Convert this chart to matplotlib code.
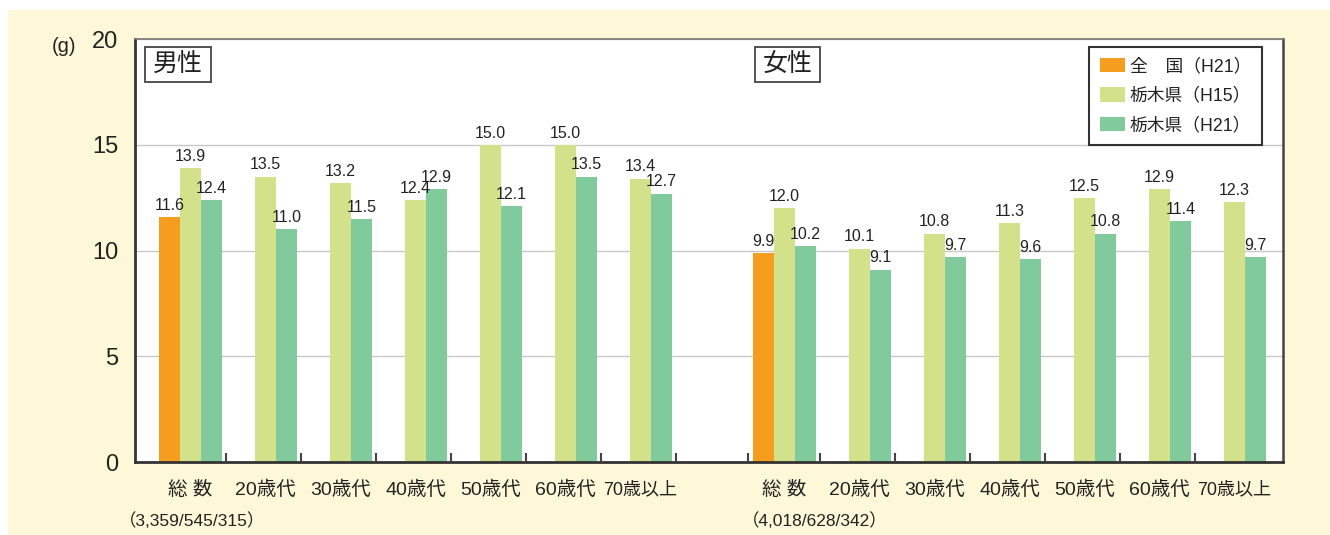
import numpy as np
import matplotlib
matplotlib.use("Agg")
import matplotlib.pyplot as plt
from matplotlib.patches import Rectangle

plt.rcParams['font.family'] = ['Liberation Sans', 'Noto Sans CJK JP', 'DejaVu Sans']

# data
categories = ["総 数", "20歳代", "30歳代", "40歳代", "50歳代", "60歳代", "70歳以上"]
counts = ["（3,359/545/315）", "（4,018/628/342）"]
series = ["全\u3000国（H21）", "栃木県（H15）", "栃木県（H21）"]
colors = ["#F59D1F", "#D3E28A", "#80CA9C"]

male_nat = [11.6]
male_h15 = [13.9, 13.5, 13.2, 12.4, 15.0, 15.0, 13.4]
male_h21 = [12.4, 11.0, 11.5, 12.9, 12.1, 13.5, 12.7]

female_nat = [9.9]
female_h15 = [12.0, 10.1, 10.8, 11.3, 12.5, 12.9, 12.3]
female_h21 = [10.2, 9.1, 9.7, 9.6, 10.8, 11.4, 9.7]

NARROW = ['Liberation Sans Narrow', 'Liberation Sans', 'Noto Sans CJK JP']

fig = plt.figure(figsize=(13.3, 5.35), dpi=100, facecolor="white")
fig.patches.append(Rectangle((8 / 1330, 0), 1, 1 - 10 / 535, transform=fig.transFigure,
                             facecolor="#FEF8D8", edgecolor="none", zorder=-10))
ax = fig.add_axes([0.1013, 0.1359, 0.8631, 0.7912])
ax.set_facecolor("white")

w = 0.28
off = 7.92
gm = np.arange(7, dtype=float)
gf = np.arange(7) + off


def label(x, v):
    ax.text(x, v + 0.2, f"{v:.1f}", ha="center", va="bottom", fontsize=11.5,
            family=NARROW, color="#222")


for g, nat, h15, h21 in [(gm, male_nat, male_h15, male_h21),
                         (gf, female_nat, female_h15, female_h21)]:
    ax.bar(g[:1] - w, nat, w, color=colors[0], label=series[0] if g is gm else None, zorder=2)
    ax.bar(g, h15, w, color=colors[1], label=series[1] if g is gm else None, zorder=2)
    ax.bar(g + w, h21, w, color=colors[2], label=series[2] if g is gm else None, zorder=2)
    for x, v in zip(g[:1] - w, nat):
        label(x, v)
    for x, v in zip(g, h15):
        label(x, v)
    for x, v in zip(g + w, h21):
        label(x, v)
    for x, c in zip(g, categories):
        ax.text(x, -1.31, c, ha="center", va="center", fontsize=14 if len(c) < 5 else 13,
                family=NARROW, color="#222", clip_on=False)

# group separators
seps = list(gm + 0.467) + [gf[0] - 0.483] + list(gf[:6] + 0.47)
ax.vlines(seps, 0, 0.45, color="#444", lw=1.5, zorder=3)

# sub counts
ax.text(-0.95, -2.73, counts[0], ha="left", va="center", fontsize=12.5, color="#222", clip_on=False)
ax.text(7.35, -2.73, counts[1], ha="left", va="center", fontsize=12.5, color="#222", clip_on=False)

# panel labels
for x0, x1, t in [(-0.608, 0.272, "男性"), (7.525, 8.392, "女性")]:
    ax.add_patch(Rectangle((x0, 17.97), x1 - x0, 1.65, facecolor="white",
                           edgecolor="#444", lw=1.3, zorder=4))
    ax.text((x0 + x1) / 2, 18.8, t, ha="center", va="center", fontsize=18,
            color="#222", zorder=5)

ax.set_xlim(-0.745, 14.561)
ax.set_ylim(0, 20)
ax.set_yticks([0, 5, 10, 15, 20])
ax.set_xticks([])
ax.tick_params(axis="y", length=0, pad=12, labelsize=17, labelcolor="#222")
ax.yaxis.grid(True, color="#C8C8C8", lw=1)
ax.set_axisbelow(True)
ax.spines["left"].set_color("#333")
ax.spines["left"].set_linewidth(2)
ax.spines["bottom"].set_color("#333")
ax.spines["bottom"].set_linewidth(2)
ax.spines["top"].set_color("#777")
ax.spines["top"].set_linewidth(1.2)
ax.spines["right"].set_color("#444")
ax.spines["right"].set_linewidth(1.8)

fig.text(52 / 1330, 1 - 46 / 535, "(g)", ha="left", va="center", fontsize=14.5, color="#222")

leg = ax.legend(loc="upper right", bbox_to_anchor=(0.982, 0.981), borderaxespad=0,
                fontsize=12.8, frameon=True, fancybox=False, framealpha=1,
                edgecolor="#333", handlelength=1.4, handleheight=0.85,
                handletextpad=0.3, labelspacing=0.7, borderpad=0.6)
leg.get_frame().set_linewidth(1.5)
for t in leg.get_texts():
    t.set_color("#222")

fig.savefig("out.png", dpi=100)
